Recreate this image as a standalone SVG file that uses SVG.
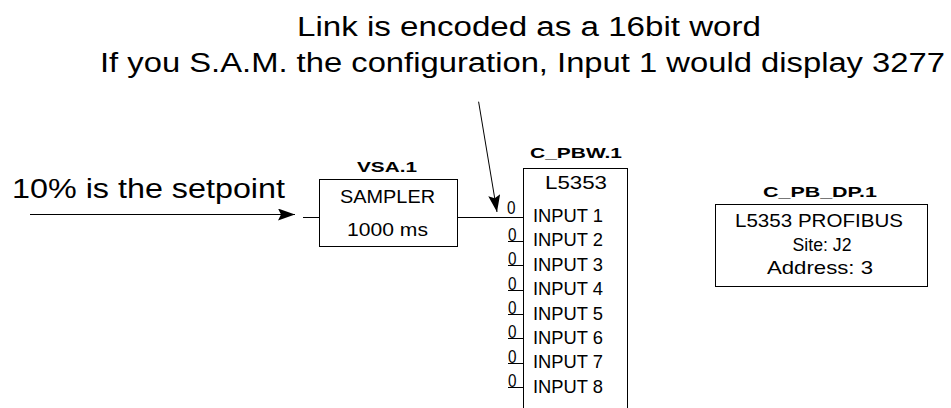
<svg xmlns="http://www.w3.org/2000/svg" width="951" height="408" viewBox="0 0 951 408">
<style>
text{font-family:"Liberation Sans",Arial,sans-serif;fill:#000}
.big{font-size:27px}
.body{font-size:18.5px}
.ttl{font-size:15.5px;font-weight:bold}
.zero{font-size:18px}
.box{fill:#fff;stroke:#000;stroke-width:1}
.ln{fill:none;stroke:#000;stroke-width:1}
</style>
<defs>
<marker id="ah" markerWidth="17" markerHeight="12" refX="17" refY="6" orient="auto" markerUnits="userSpaceOnUse">
<path d="M0,0 L17,6 L0,12 L3,6 Z" fill="#000"/>
</marker>
</defs>
<rect width="951" height="408" fill="#fff"/>

<g id="note">
<text class="big" x="297" y="36" textLength="464" lengthAdjust="spacingAndGlyphs">Link is encoded as a 16bit word</text>
<text class="big" x="100" y="72" textLength="845" lengthAdjust="spacingAndGlyphs">If you S.A.M. the configuration, Input 1 would display 3277</text>
</g>

<g id="setpoint-label">
<text class="big" x="12" y="198" textLength="273" lengthAdjust="spacingAndGlyphs">10% is the setpoint</text>
</g>

<g id="connectors">
<line class="ln" x1="30" y1="214.5" x2="295" y2="214.5" marker-end="url(#ah)"/>
<line class="ln" x1="478.6" y1="101.7" x2="497" y2="212" marker-end="url(#ah)"/>
<line class="ln" x1="303" y1="217.5" x2="319" y2="217.5"/>
<line class="ln" x1="458" y1="217.5" x2="523" y2="217.5"/>
</g>

<g id="VSA.1">
<text class="ttl" x="387" y="172" text-anchor="middle" textLength="60" lengthAdjust="spacingAndGlyphs">VSA.1</text>
<rect class="box" x="319.5" y="179.5" width="138" height="67"/>
<text class="body" x="387.5" y="203" text-anchor="middle" textLength="95" lengthAdjust="spacingAndGlyphs">SAMPLER</text>
<text class="body" x="387.5" y="236" text-anchor="middle" textLength="81" lengthAdjust="spacingAndGlyphs">1000 ms</text>
</g>

<g id="C_PBW.1">
<text class="ttl" x="576" y="158" text-anchor="middle" textLength="92" lengthAdjust="spacingAndGlyphs">C_PBW.1</text>
<rect class="box" x="523.5" y="168.5" width="104" height="260"/>
<text class="body" x="576" y="189" text-anchor="middle" textLength="62" lengthAdjust="spacingAndGlyphs">L5353</text>
<text class="zero" x="507" y="214" textLength="8.5" lengthAdjust="spacingAndGlyphs">0</text>
<text class="body" x="533" y="222" textLength="70" lengthAdjust="spacingAndGlyphs">INPUT 1</text>
<g id="input2">
<text class="zero" x="508" y="240.5" textLength="8.5" lengthAdjust="spacingAndGlyphs">0</text>
<line class="ln" x1="508" y1="241.5" x2="523" y2="241.5"/>
<text class="body" x="533" y="246.4" textLength="70" lengthAdjust="spacingAndGlyphs">INPUT 2</text>
</g>
<g id="input3">
<text class="zero" x="508" y="265" textLength="8.5" lengthAdjust="spacingAndGlyphs">0</text>
<line class="ln" x1="508" y1="265.5" x2="523" y2="265.5"/>
<text class="body" x="533" y="270.8" textLength="70" lengthAdjust="spacingAndGlyphs">INPUT 3</text>
</g>
<g id="input4">
<text class="zero" x="508" y="289.5" textLength="8.5" lengthAdjust="spacingAndGlyphs">0</text>
<line class="ln" x1="508" y1="290.5" x2="523" y2="290.5"/>
<text class="body" x="533" y="295.2" textLength="70" lengthAdjust="spacingAndGlyphs">INPUT 4</text>
</g>
<g id="input5">
<text class="zero" x="508" y="313.5" textLength="8.5" lengthAdjust="spacingAndGlyphs">0</text>
<line class="ln" x1="508" y1="314.5" x2="523" y2="314.5"/>
<text class="body" x="533" y="319.6" textLength="70" lengthAdjust="spacingAndGlyphs">INPUT 5</text>
</g>
<g id="input6">
<text class="zero" x="508" y="338" textLength="8.5" lengthAdjust="spacingAndGlyphs">0</text>
<line class="ln" x1="508" y1="338.5" x2="523" y2="338.5"/>
<text class="body" x="533" y="344" textLength="70" lengthAdjust="spacingAndGlyphs">INPUT 6</text>
</g>
<g id="input7">
<text class="zero" x="508" y="362.5" textLength="8.5" lengthAdjust="spacingAndGlyphs">0</text>
<line class="ln" x1="508" y1="363.5" x2="523" y2="363.5"/>
<text class="body" x="533" y="368.4" textLength="70" lengthAdjust="spacingAndGlyphs">INPUT 7</text>
</g>
<g id="input8">
<text class="zero" x="508" y="387" textLength="8.5" lengthAdjust="spacingAndGlyphs">0</text>
<line class="ln" x1="508" y1="387.5" x2="523" y2="387.5"/>
<text class="body" x="533" y="392.8" textLength="70" lengthAdjust="spacingAndGlyphs">INPUT 8</text>
</g>
</g>

<g id="C_PB_DP.1">
<text class="ttl" x="820" y="197" text-anchor="middle" textLength="114" lengthAdjust="spacingAndGlyphs">C_PB_DP.1</text>
<rect class="box" x="715.5" y="204.5" width="212" height="82"/>
<text class="body" x="819" y="227" text-anchor="middle" textLength="168" lengthAdjust="spacingAndGlyphs">L5353 PROFIBUS</text>
<text class="body" x="822" y="251" text-anchor="middle" textLength="59" lengthAdjust="spacingAndGlyphs">Site: J2</text>
<text class="body" x="820" y="274" text-anchor="middle" textLength="106" lengthAdjust="spacingAndGlyphs">Address: 3</text>
</g>
</svg>
